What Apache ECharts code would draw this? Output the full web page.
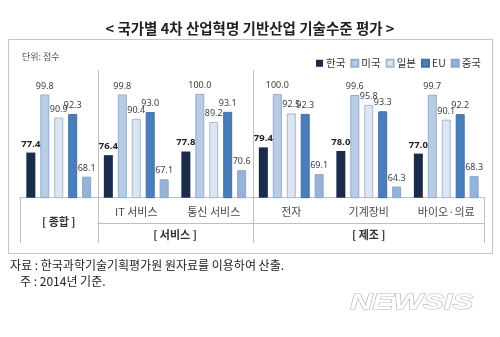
<!DOCTYPE html>
<html><head><meta charset="utf-8">
<script src="https://cdn.jsdelivr.net/npm/echarts@6/dist/echarts.min.js"></script>
<style>html,body{margin:0;padding:0;background:#fff}#c{width:500px;height:337px}</style>
</head><body><div id="c"></div>
<script>
const categories = ['종합','IT 서비스','통신 서비스','전자','기계장비','바이오·의료'];
const seriesNames = ['한국','미국','일본','EU','중국'];
const korea = [77.4, 76.4, 77.8, 79.4, 78.0, 77.0];
const usa   = [99.8, 99.8, 100.0, 100.0, 99.6, 99.7];
const japan = [90.9, 90.4, 89.2, 92.5, 95.8, 90.1];
const eu    = [92.3, 93.0, 93.1, 92.3, 93.3, 92.2];
const china = [68.1, 67.1, 70.6, 69.1, 64.3, 68.3];
const groupNames = ['[ 종합 ]', '[ 서비스 ]', '[ 제조 ]'];
const groupSpans = [[0,1],[1,3],[3,6]];
const yMin = 60, yMax = 110;

const FONT = '"Noto Sans CJK KR", "Noto Sans", sans-serif';
const NUMFONT = '"Noto Sans", "Noto Sans CJK KR", sans-serif';
const colors = ['#1b2b4b', '#b8cce4', '#dce6f2', '#4a7ebb', '#95b3d7'];
const borders = ['#1b2b4b', '#8faed3', '#a8b8cc', '#3f6fa8', '#88a6cc'];
const values = [korea, usa, japan, eu, china];
// label nudges to avoid overlaps, as in the original (series index -> category index -> [dx, dy])
const labelNudge = {2: {3: [-3, 0]}, 3: {0: [10, -7], 1: [1, -6], 3: [3, -1], 5: [6, -8]}};

const W = 500, H = 337;
const gL = 20, gR = 15, gT = 68, gB = 139.3;
const plotW = W - gL - gR;
const catW = plotW / categories.length;
const base = H - gB;
const xAt = i => gL + i * catW;
const lineColor = '#bfbfbf';

const chart = echarts.init(document.getElementById('c'), null, {renderer: 'canvas'});

const graphics = [];
graphics.push({type:'rect', shape:{x:8.5, y:39.5, width:484, height:214}, style:{fill:'none', stroke:'#c4c4c4', lineWidth:1}, z:0});
const tblBottom = 243;
graphics.push({type:'line', shape:{x1:xAt(0)+0.5, y1:base, x2:xAt(0)+0.5, y2:tblBottom}, style:{stroke:lineColor, lineWidth:1}});
graphics.push({type:'line', shape:{x1:xAt(6)-0.5, y1:base, x2:xAt(6)-0.5, y2:tblBottom}, style:{stroke:lineColor, lineWidth:1}});
[1,3].forEach(i => {
  graphics.push({type:'line', shape:{x1:Math.round(xAt(i))+0.5, y1:gT+2, x2:Math.round(xAt(i))+0.5, y2:tblBottom}, style:{stroke:lineColor, lineWidth:1}});
});
graphics.push({type:'line', shape:{x1:xAt(1), y1:223.5, x2:xAt(6), y2:223.5}, style:{stroke:lineColor, lineWidth:1}});
groupNames.forEach((g, k) => {
  const [a, b] = groupSpans[k];
  const cx = (xAt(a) + xAt(b)) / 2;
  const cy = (b - a === 1) ? (base + tblBottom) / 2 + 1 : (223.5 + tblBottom) / 2 + 2;
  graphics.push({type:'text', x:cx, y:cy, style:{text:g, font:'bold 11px ' + FONT, fill:'#333', textAlign:'center', textVerticalAlign:'middle'}});
});
graphics.push({type:'text', x:22, y:57, style:{text:'단위: 점수', font:'9px ' + FONT, fill:'#555', textAlign:'left', textVerticalAlign:'middle'}});
graphics.push({type:'text', x:10, y:265, style:{text:'자료 : 한국과학기술기획평가원 원자료를 이용하여 산출.', font:'12px ' + FONT, fill:'#222', textAlign:'left', textVerticalAlign:'middle'}});
graphics.push({type:'text', x:20, y:281, style:{text:'주 : 2014년 기준.', font:'12px ' + FONT, fill:'#222', textAlign:'left', textVerticalAlign:'middle'}});
graphics.push({type:'text', x:350, y:303, scaleX:1.42, style:{text:'NEWSIS', font:'italic bold 22px "Liberation Sans", sans-serif', fill:'#ffffff', stroke:'#b5b5b5', lineWidth:1, textAlign:'left', textVerticalAlign:'middle'}});

const series = seriesNames.map((name, s) => ({
  name, type:'bar', barWidth: 9, barGap: '55%',
  data: values[s].map((v, i) => {
    const n = labelNudge[s] && labelNudge[s][i];
    return n ? {value: v, label: {offset: n}} : v;
  }),
  itemStyle:{color: colors[s], borderColor: borders[s], borderWidth: s === 0 ? 0 : 1},
  label:{show:true, position:'top', distance:4, formatter: p => Number(p.value).toFixed(1),
    fontFamily: NUMFONT, fontSize: s === 0 ? 9.5 : 9, color: s === 0 ? '#222' : '#404040', fontWeight: s === 0 ? 'bold' : 'normal'},
  labelLayout: {hideOverlap: false},
  animation:false
}));

chart.setOption({
  animation:false,
  textStyle:{fontFamily: FONT},
  title:{text:'< 국가별 4차 산업혁명 기반산업 기술수준 평가 >', left:'center', top:16,
    textStyle:{fontFamily: FONT, fontSize:14.5, fontWeight:'bold', color:'#222'}},
  legend:{data: seriesNames, left:311, top:53, itemWidth:7, itemHeight:7, itemGap:5, icon:'rect',
    textStyle:{fontFamily: FONT, fontSize:10.5, color:'#333', padding:[0,0,0,-2]}},
  grid:{left:gL, right:gR, top:gT, bottom:gB, containLabel:false},
  xAxis:{type:'category', data: categories,
    axisLine:{show:true, lineStyle:{color:lineColor}}, axisTick:{show:false},
    axisLabel:{interval:0, margin:9, fontFamily: FONT, fontSize:11, color:'#4a4a4a', formatter:(v, i) => i === 0 ? '' : v}},
  yAxis:{type:'value', min:yMin, max:yMax, show:false, splitLine:{show:false}},
  series,
  graphic: graphics
});
</script></body></html>
